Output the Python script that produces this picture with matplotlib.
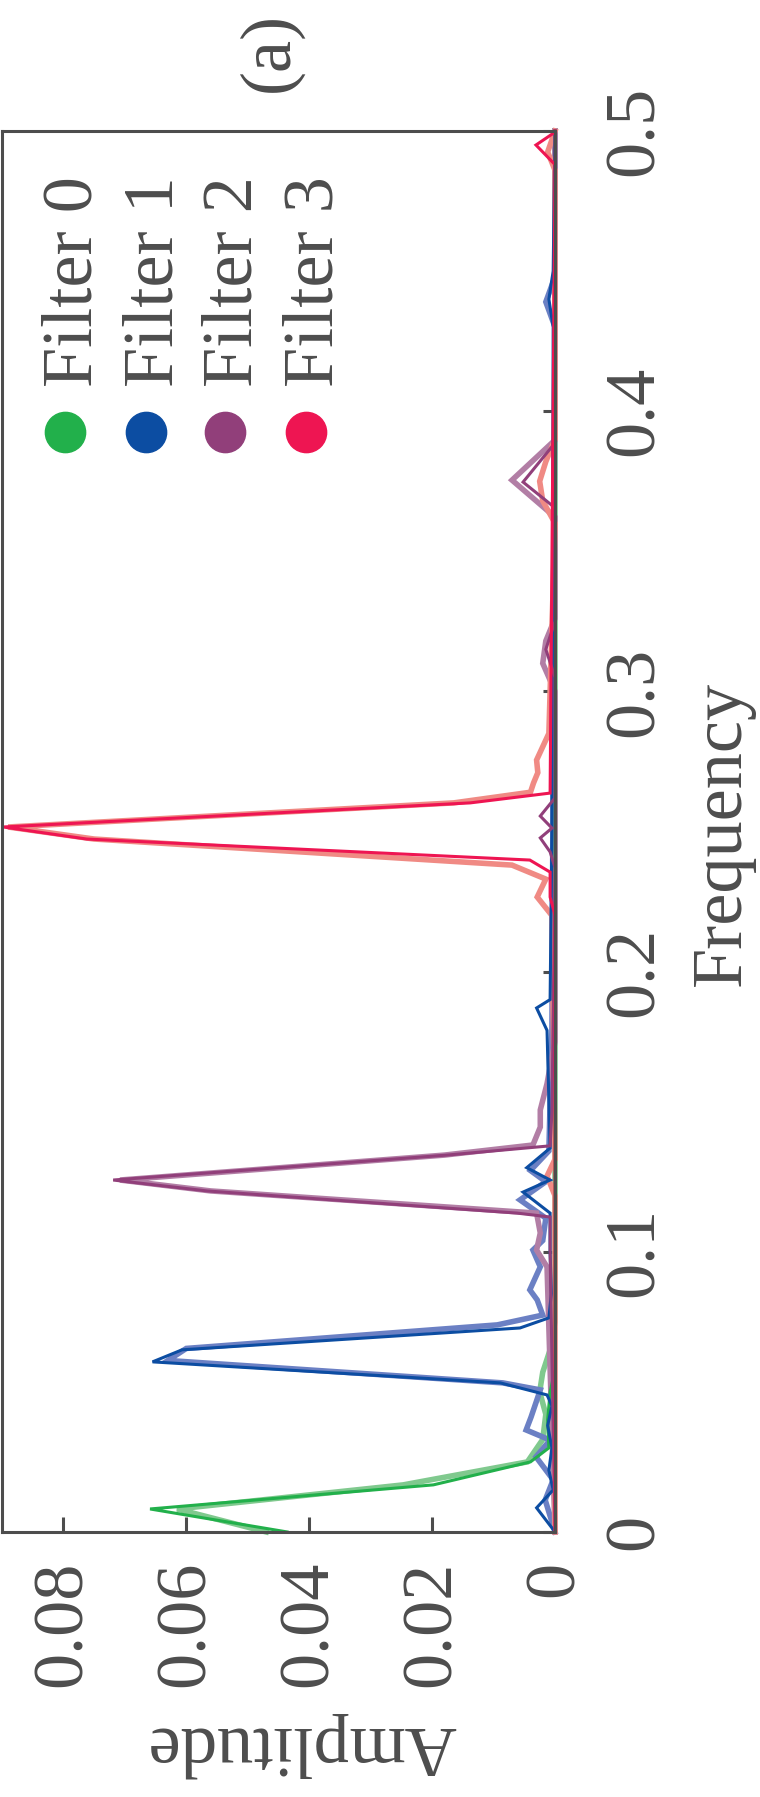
import matplotlib
matplotlib.use("Agg")
import matplotlib.pyplot as plt

plt.rcParams['font.family'] = ['Liberation Serif', 'DejaVu Serif']
plt.rcParams['text.color'] = '#4d4d4d'

filters = ['Filter 0', 'Filter 1', 'Filter 2', 'Filter 3']
dark_colors = ['#22b04b', '#0c4da2', '#913f7a', '#ee1552']
light_colors = ['#80c98e', '#6b80c4', '#b27ea5', '#f08a84']

# Filter 0 (green): main curve and lighter companion curve
freq_g = [0.0, 0.0082, 0.0168, 0.025, 0.030, 0.040, 0.050, 0.058, 0.5]
amp_g = [0.0436, 0.0659, 0.0198, 0.0040, 0.0010, 0.0012, 0.0008, 0.0, 0.0]
freq_g2 = [0.0, 0.0082, 0.0168, 0.025, 0.033, 0.042, 0.050, 0.057, 0.065, 0.075, 0.5]
amp_g2 = [0.0470, 0.0615, 0.0247, 0.0045, 0.0020, 0.0015, 0.0025, 0.0020, 0.0008, 0.0, 0.0]

# Filter 1 (blue)
freq_b = [0.0, 0.0086, 0.015, 0.022, 0.030, 0.038, 0.045, 0.0489, 0.0532, 0.0607,
          0.065, 0.0728, 0.0764, 0.085, 0.100, 0.1138, 0.1213, 0.1256, 0.130, 0.137,
          0.179, 0.187, 0.190, 0.25, 0.43, 0.44, 0.45, 0.5]
amp_b = [0.0, 0.0030, 0.0003, 0.0010, 0.0005, 0.0012, 0.0005, 0.0013, 0.0089, 0.0655,
         0.0607, 0.0057, 0.0010, 0.0006, 0.0008, 0.0008, 0.0052, 0.0008, 0.0046, 0.0008,
         0.0013, 0.0030, 0.0008, 0.0005, 0.0003, 0.0010, 0.0003, 0.0]
freq_b2 = [0.0, 0.0114, 0.0186, 0.0268, 0.0328, 0.0364, 0.041, 0.0507, 0.0532, 0.0612,
           0.0655, 0.0739, 0.0774, 0.0828, 0.0864, 0.0946, 0.1006, 0.104, 0.112, 0.1185,
           0.125, 0.129, 0.136, 0.18, 0.43, 0.439, 0.448, 0.5]
amp_b2 = [0.0, 0.0016, 0.0003, 0.0031, 0.0008, 0.0047, 0.0039, 0.0024, 0.0085, 0.0630,
          0.0600, 0.0094, 0.0020, 0.0029, 0.0041, 0.0024, 0.0036, 0.0020, 0.0015, 0.0057,
          0.0015, 0.0040, 0.0010, 0.0005, 0.0, 0.0015, 0.0, 0.0]

# Filter 2 (purple)
freq_p = [0.0, 0.10, 0.1124, 0.1138, 0.1217, 0.1256, 0.1345, 0.1378, 0.15, 0.237,
          0.2427, 0.2477, 0.2512, 0.2555, 0.262, 0.305, 0.315, 0.325, 0.3655, 0.3747,
          0.3887, 0.5]
amp_p = [0.0, 0.0008, 0.0008, 0.0062, 0.0566, 0.0719, 0.0176, 0.0008, 0.0005, 0.0,
         0.0008, 0.0024, 0.0005, 0.0024, 0.0, 0.0, 0.0015, 0.0, 0.0, 0.0052,
         0.0, 0.0]
freq_p2 = [0.0, 0.0946, 0.1006, 0.1067, 0.1138, 0.1217, 0.1256, 0.1345, 0.1381, 0.1445,
           0.1506, 0.160, 0.166, 0.175, 0.30, 0.310, 0.318, 0.326, 0.3622, 0.3754,
           0.3897, 0.5]
amp_p2 = [0.0, 0.0013, 0.0030, 0.0024, 0.0030, 0.0560, 0.0708, 0.0180, 0.0036, 0.0024,
          0.0024, 0.0013, 0.0008, 0.0, 0.0, 0.0020, 0.0015, 0.0, 0.0, 0.0070,
          0.0, 0.0]

# Filter 3 (red)
freq_r = [0.0, 0.220, 0.2266, 0.2355, 0.2398, 0.2473, 0.2516, 0.2602, 0.2637, 0.488,
          0.4950, 0.4996, 0.5]
amp_r = [0.0, 0.0, 0.0008, 0.0008, 0.0041, 0.0762, 0.0898, 0.0138, 0.0008, 0.0,
         0.0031, 0.0, 0.0]
freq_r2 = [0.0, 0.120, 0.127, 0.133, 0.220, 0.2266, 0.2330, 0.2380, 0.2473, 0.2516,
           0.2602, 0.2640, 0.2673, 0.2710, 0.2755, 0.285, 0.360, 0.368, 0.375, 0.382,
           0.390, 0.486, 0.4925, 0.5]
amp_r2 = [0.0, 0.0, 0.0013, 0.0, 0.0005, 0.0029, 0.0015, 0.0070, 0.0750, 0.0890,
          0.0165, 0.0040, 0.0035, 0.0028, 0.0030, 0.0010, 0.0, 0.0020, 0.0025, 0.0015,
          0.0, 0.0, 0.0012, 0.0]

dark = [(freq_g, amp_g), (freq_b, amp_b), (freq_p, amp_p), (freq_r, amp_r)]
light = [(freq_g2, amp_g2), (freq_b2, amp_b2), (freq_p2, amp_p2), (freq_r2, amp_r2)]

amp_ticks = [0, 0.02, 0.04, 0.06, 0.08]
amp_labels = ['0', '0.02', '0.04', '0.06', '0.08']
freq_ticks = [0, 0.1, 0.2, 0.3, 0.4, 0.5]
freq_labels = ['0', '0.1', '0.2', '0.3', '0.4', '0.5']

grey = '#4d4d4d'
fig = plt.figure(figsize=(7.6, 17.97), dpi=100)
ax = fig.add_axes([0.0026, 0.1475, 0.7277, 0.7796])

# chart is drawn turned a quarter turn: frequency runs upward, amplitude leftward
for (f, a), c in zip(light, light_colors):
    ax.plot(a, f, color=c, lw=4.0, solid_joinstyle='miter', clip_on=False)
for (f, a), c in zip(dark, dark_colors):
    ax.plot(a, f, color=c, lw=2.2, solid_joinstyle='miter', clip_on=False)

ax.set_xlim(0.09, 0)
ax.set_ylim(0, 0.5)
ax.set_xticks(amp_ticks)
ax.set_xticklabels(amp_labels)
ax.set_yticks(freq_ticks)
ax.set_yticklabels(freq_labels)
ax.yaxis.tick_right()

ax.tick_params(axis='x', direction='in', length=11, width=2.2, color=grey,
               labelsize=52, labelcolor=grey, labelrotation=90, pad=21)
ax.tick_params(axis='y', direction='in', length=8.5, width=2.2, color=grey,
               labelsize=52, labelcolor=grey, labelrotation=90, pad=34)
for lab in ax.get_yticklabels():
    lab.set_va('center')
    lab.set_ha('left')

for s in ax.spines.values():
    s.set_color(grey)
    s.set_linewidth(2.2)

# legend, written sideways like the rest
mark_x = [0.114, 0.260, 0.403, 0.550]
for name, c, mx in zip(filters, dark_colors, mark_x):
    ax.plot([mx], [0.785], 'o', ms=29, color=c, transform=ax.transAxes, clip_on=False)
    ax.text(mx + 0.048, 0.817, name, transform=ax.transAxes, rotation=90,
            rotation_mode='anchor', ha='left', va='baseline', fontsize=52, color=grey)

fig.text(722 / 760, 1 - 833 / 1797, 'Frequency', rotation=90, ha='center', va='center',
         fontsize=52, color=grey)
fig.text(302 / 760, 1 - 1745 / 1797, 'Amplitude', rotation=180, ha='center', va='center',
         fontsize=52, color=grey)
fig.text(270 / 760, 1 - 52 / 1797, '(a)', rotation=90, ha='center', va='center',
         fontsize=52, color=grey)

fig.savefig('out.png', dpi=100)
